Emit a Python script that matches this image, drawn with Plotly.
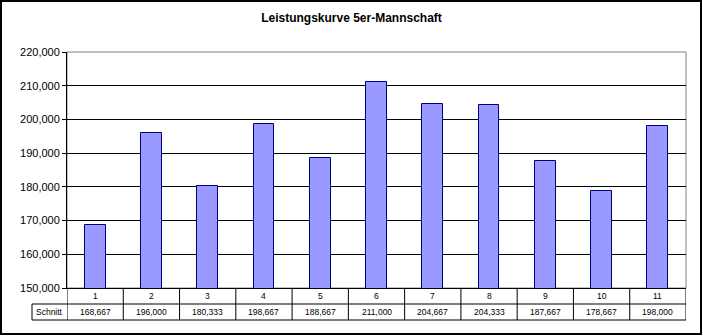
import plotly.graph_objects as go

categories = [1, 2, 3, 4, 5, 6, 7, 8, 9, 10, 11]
values = [168667, 196000, 180333, 198667, 188667, 211000, 204667, 204333, 187667, 178667, 198000]
row_label = "Schnitt"
title_text = "Leistungskurve 5er-Mannschaft"

W, H = 703, 336
L, R, T, B = 67, 17, 52, 48
pw, ph = W - L - R, H - T - B

def px_x(px):
    return (px - L) / pw

def px_y(py):
    return (H - B - py) / ph

font_family = "Liberation Sans, Arial, sans-serif"

fig = go.Figure()
fig.add_trace(go.Bar(
    x=categories, y=values, width=0.37,
    marker=dict(color="#9999FF", line=dict(color="#000080", width=1)),
    showlegend=False, hoverinfo="x+y",
))

shapes = []
shapes.append(dict(type="rect", xref="paper", yref="paper", x0=0, x1=1, y0=0, y1=1,
                   line=dict(color="#808080", width=1), layer="below"))
shapes.append(dict(type="rect", xref="paper", yref="paper",
                   x0=px_x(1), x1=px_x(701), y0=px_y(334), y1=px_y(1),
                   line=dict(color="black", width=2)))

y_row1 = px_y(304)
y_row2 = px_y(320)
x_lab = px_x(32)
for yy in (y_row1, y_row2):
    shapes.append(dict(type="line", xref="paper", yref="paper", x0=x_lab, x1=1, y0=yy, y1=yy,
                       line=dict(color="black", width=1)))
n = len(categories)
for i in range(n + 1):
    xb = categories[0] - 0.5 + i
    shapes.append(dict(type="line", xref="x", yref="paper", x0=xb, x1=xb, y0=0, y1=y_row2,
                       line=dict(color="black", width=1)))
shapes.append(dict(type="line", xref="paper", yref="paper", x0=x_lab, x1=x_lab, y0=y_row1, y1=y_row2,
                   line=dict(color="black", width=1)))

tfont = dict(size=8.5, color="black", family=font_family)
annotations = []
for c, v in zip(categories, values):
    annotations.append(dict(x=c, xref="x", y=(0 + y_row1) / 2, yref="paper", text=str(c),
                            showarrow=False, font=tfont, xanchor="center", yanchor="middle"))
    annotations.append(dict(x=c, xref="x", y=(y_row1 + y_row2) / 2, yref="paper", text=f"{v:,}",
                            showarrow=False, font=tfont, xanchor="center", yanchor="middle"))
annotations.append(dict(x=(x_lab + 0) / 2, xref="paper", y=(y_row1 + y_row2) / 2, yref="paper",
                        text=row_label, showarrow=False, font=tfont,
                        xanchor="center", yanchor="middle"))

fig.update_layout(
    width=W, height=H, autosize=False,
    margin=dict(l=L, r=R, t=T, b=B, pad=0),
    paper_bgcolor="white", plot_bgcolor="white",
    title=dict(text=f"<b>{title_text}</b>", x=0.5, xanchor="center", y=1 - 18 / H, yanchor="middle",
               font=dict(size=12, color="black", family=font_family)),
    xaxis=dict(range=[0.5, 11.5], showticklabels=False, showgrid=False, zeroline=False,
               showline=True, linecolor="black", linewidth=1, ticks=""),
    yaxis=dict(range=[150000, 220000], dtick=10000, tickformat=",", showgrid=True,
               gridcolor="black", gridwidth=1, zeroline=False, showline=True, linecolor="black",
               linewidth=1, ticks="outside", ticklen=4, tickcolor="black",
               tickfont=dict(size=11, color="black", family=font_family)),
    shapes=shapes, annotations=annotations, bargap=0,
)

fig.write_html("out.html")
